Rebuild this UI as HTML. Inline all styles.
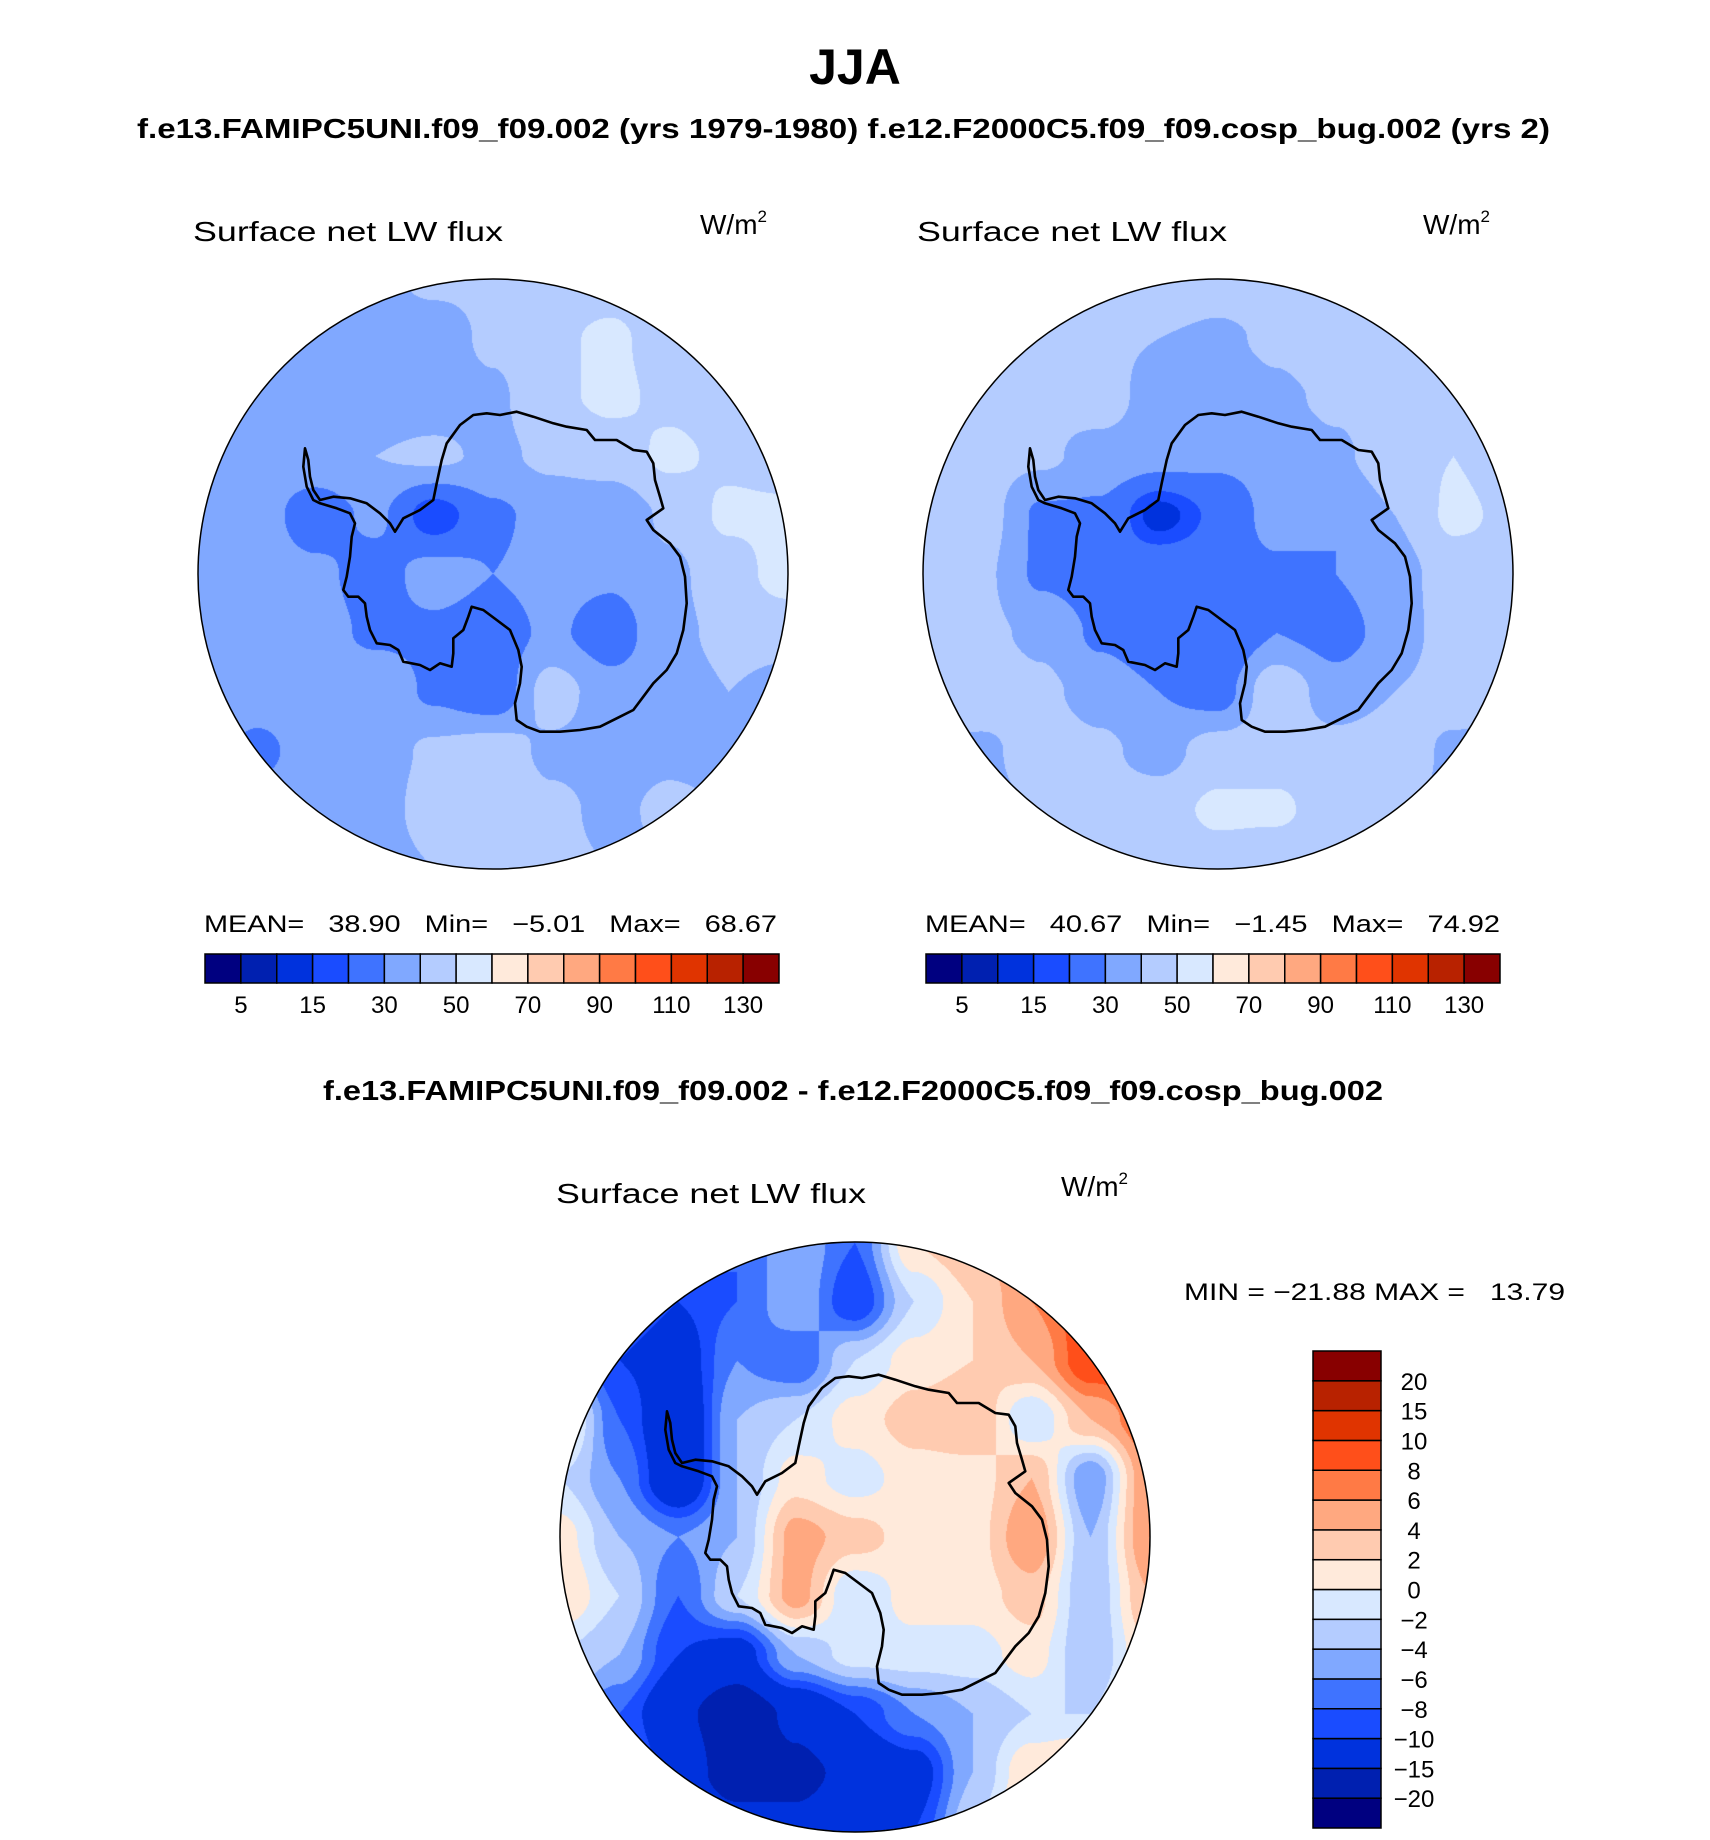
<!DOCTYPE html>
<html><head><meta charset="utf-8"><style>
html,body{margin:0;padding:0;background:#fff;}
#root{position:relative;width:1710px;height:1840px;overflow:hidden;}
canvas{position:absolute;}
svg{position:absolute;left:0;top:0;}
</style></head><body>
<div id="root">
<canvas id="mapL" width="590" height="590" style="left:198px;top:279px"></canvas>
<canvas id="mapR" width="590" height="590" style="left:923px;top:279px"></canvas>
<canvas id="mapD" width="590" height="590" style="left:560px;top:1242px"></canvas>
<svg id="ov" width="1710" height="1840" font-family="Liberation Sans, sans-serif">
<text x="855" y="84" text-anchor="middle" font-weight="bold" font-size="50">JJA</text>
<text x="137" y="138" font-weight="bold" font-size="28" textLength="1413" lengthAdjust="spacingAndGlyphs">f.e13.FAMIPC5UNI.f09_f09.002 (yrs 1979-1980)    f.e12.F2000C5.f09_f09.cosp_bug.002 (yrs 2)</text>
<text x="193" y="241" font-size="28" textLength="310" lengthAdjust="spacingAndGlyphs">Surface net LW flux</text>
<text x="700" y="234" font-size="28">W/m<tspan font-size="17" dy="-12">2</tspan></text>
<text x="917" y="241" font-size="28" textLength="310" lengthAdjust="spacingAndGlyphs">Surface net LW flux</text>
<text x="1423" y="234" font-size="28">W/m<tspan font-size="17" dy="-12">2</tspan></text>
<text x="204" y="932" font-size="24" textLength="573" lengthAdjust="spacingAndGlyphs" xml:space="preserve">MEAN=   38.90   Min=   −5.01   Max=   68.67</text>
<text x="925" y="932" font-size="24" textLength="575" lengthAdjust="spacingAndGlyphs" xml:space="preserve">MEAN=   40.67   Min=   −1.45   Max=   74.92</text>
<text x="323" y="1100" font-weight="bold" font-size="28" textLength="1060" lengthAdjust="spacingAndGlyphs">f.e13.FAMIPC5UNI.f09_f09.002 - f.e12.F2000C5.f09_f09.cosp_bug.002</text>
<text x="556" y="1203" font-size="28" textLength="310" lengthAdjust="spacingAndGlyphs">Surface net LW flux</text>
<text x="1061" y="1196" font-size="28">W/m<tspan font-size="17" dy="-12">2</tspan></text>
<text x="1184" y="1300" font-size="24" textLength="381" lengthAdjust="spacingAndGlyphs" xml:space="preserve">MIN = −21.88 MAX =   13.79</text>
<g id="cbars"></g>
<g id="coasts"></g>
</svg>
</div>
<script>
const colors=["#000080","#0020b0","#0032dd","#1a4cff","#3f73ff","#80a8ff","#b4ccff","#d8e8ff","#ffeadb","#ffcbb0","#ffa880","#ff7a45","#ff4f1a","#e03400","#b82200","#880000"];
const levelsAbs=[5,10,15,20,30,40,50,60,70,80,90,100,110,120,130];
const tickLabelsAbs=["5","15","30","50","70","90","110","130"];
const levelsDiff=[-20,-15,-10,-8,-6,-4,-2,0,2,4,6,8,10,15,20];
const tickLabelsDiff=["−20","−15","−10","−8","−6","−4","−2","0","2","4","6","8","10","15","20"];
const gridL=[
[35,35,35,38,42,42,45,45,42,40,40],
[35,35,38,35,35,42,48,52,45,42,40],
[35,34,35,35,35,38,48,52,48,45,40],
[35,34,36,40,42,38,42,45,52,48,45],
[35,34,25,32,15,28,34,32,42,52,52],
[36,34,32,26,34,30,34,32,38,45,55],
[35,34,34,28,28,25,32,24,38,42,42],
[35,34,35,38,28,22,45,34,36,40,38],
[35,28,34,35,42,45,38,36,38,36,35],
[35,34,32,35,45,48,42,38,42,40,35],
[35,35,35,35,40,45,42,40,38,35,35]];
const gridR=[
[42,42,42,45,48,45,45,45,42,40,40],
[42,42,45,42,40,38,42,48,45,42,40],
[42,40,42,45,35,34,38,42,45,42,40],
[42,44,42,36,34,32,34,38,46,50,45],
[46,45,28,28,12,22,34,30,40,52,48],
[48,42,28,24,28,26,28,30,36,45,48],
[45,42,38,28,22,20,30,26,34,46,42],
[42,46,42,36,30,25,48,34,40,45,40],
[40,38,45,42,36,45,45,44,46,38,38],
[38,38,40,44,46,52,52,44,42,38,38],
[38,38,38,40,42,45,42,40,38,38,38]];
const gridD=[
[-6,-6,-6,-8,-4,-8,2,4,6,8,8],
[-6,-8,-10,-8,-4,-10,-2,2,6,10,10],
[-6,-10,-12,-6,-8,-2,1,2,4,10,10],
[2,-8,-14,-4,-2,1,3,4,-2,4,8],
[-2,-6,-14,-4,1,-1,1,1,4,-6,6],
[1,-4,-6,-4,5,3,1,1,6,-4,6],
[2,-2,-8,-2,5,-2,1,1,3,-4,4],
[-2,-4,-10,-12,-4,-1,-1,-1,1,-4,2],
[-4,-8,-14,-18,-14,-10,-6,-4,-2,-2,2],
[-4,-6,-12,-18,-16,-14,-12,-4,2,4,4],
[-4,-6,-8,-12,-14,-12,-10,-2,4,6,6]];

function hex(c){return [parseInt(c.slice(1,3),16),parseInt(c.slice(3,5),16),parseInt(c.slice(5,7),16)];}
const rgb=colors.map(hex);
function bin(v,lv){let i=0;while(i<lv.length&&v>=lv[i])i++;return i;}
function drawMap(id,grid,lv){
  const cv=document.getElementById(id),ctx=cv.getContext('2d');
  const W=590,R=295,img=ctx.createImageData(W,W),n=grid.length-1;
  for(let y=0;y<W;y++)for(let x=0;x<W;x++){
    const dx=x-R+0.5,dy=y-R+0.5;if(dx*dx+dy*dy>R*R)continue;
    const gx=x/(W-1)*n,gy=y/(W-1)*n;
    const i=Math.min(n-1,Math.floor(gx)),j=Math.min(n-1,Math.floor(gy));
    const fx=gx-i,fy=gy-j;
    const sx=fx*fx*(3-2*fx),sy=fy*fy*(3-2*fy);
    const v=grid[j][i]*(1-sx)*(1-sy)+grid[j][i+1]*sx*(1-sy)+grid[j+1][i]*(1-sx)*sy+grid[j+1][i+1]*sx*sy;
    const c=rgb[bin(v,lv)],k=(y*W+x)*4;
    img.data[k]=c[0];img.data[k+1]=c[1];img.data[k+2]=c[2];img.data[k+3]=255;
  }
  ctx.putImageData(img,0,0);
}
drawMap('mapL',gridL,levelsAbs);
drawMap('mapR',gridR,levelsAbs);
drawMap('mapD',gridD,levelsDiff);

const NS='http://www.w3.org/2000/svg';
function mk(tag,attrs,parent){const e=document.createElementNS(NS,tag);for(const k in attrs)e.setAttribute(k,attrs[k]);parent.appendChild(e);return e;}
const cb=document.getElementById('cbars');
[[205,'left'],[926,'right']].forEach(([x0,side])=>{
  const w=(779-205)/16;
  colors.forEach((c,i)=>{
    const r=mk('rect',{x:x0+i*w,y:954,width:w,height:29,fill:c,stroke:'#000','stroke-width':1.5},cb);
    
    
  });
  tickLabelsAbs.forEach((t,k)=>{
    const t2=mk('text',{x:x0+(2*k+1)*w,y:1013,'text-anchor':'middle','font-size':24},cb);t2.textContent=t;
    
    
  });
});
{
  const y0=1351,h=(1828-1351)/16;
  colors.forEach((c,i)=>{
    const r=mk('rect',{x:1313,y:y0+(15-i)*h,width:68,height:h,fill:c,stroke:'#000','stroke-width':1.5},cb);
    
    
  });
  tickLabelsDiff.forEach((t,k)=>{
    const t2=mk('text',{x:1414,y:y0+(15-k)*h+9,'text-anchor':'middle','font-size':24},cb);t2.textContent=t;
    
    
  });
}
const coastPts=[[15,175],[25,210],[30,260],[40,300],[60,330],[100,320],[150,325],[200,340],[240,370],[270,400],[285,425],[310,385],[360,360],[400,330],[410,280],[425,210],[440,160],[480,105],[520,75],[560,70],[600,75],[650,65],[700,80],[760,100],[800,110],[860,120],[885,150],[950,150],[1000,180],[1040,185],[1060,220],[1065,270],[1080,320],[1090,355],[1040,390],[1060,420],[1110,460],[1140,500],[1155,560],[1160,640],[1150,720],[1130,790],[1100,840],[1060,880],[1030,920],[1000,960],[960,980],[900,1010],[840,1020],[780,1025],[720,1025],[680,1010],[650,990],[645,940],[660,880],[665,830],[655,780],[630,720],[590,690],[550,660],[515,650],[505,680],[490,720],[460,745],[460,790],[455,830],[420,820],[390,840],[360,825],[310,815],[295,780],[270,765],[230,760],[210,720],[200,680],[195,640],[175,620],[145,620],[130,600],[140,560],[150,500],[155,440],[165,400],[150,370],[110,355],[60,340],[40,330],[20,290],[10,230]];
const cg=document.getElementById('coasts');
[[493,574,'left'],[1218,574,'right'],[855,1537,'diff']].forEach(([cx,cy,side])=>{
  const d=coastPts.map((p,i)=>(i?'L':'M')+(300+p[0]/3-493+cx).toFixed(1)+','+(390+p[1]/3-574+cy).toFixed(1)).join('')+'Z';
  const pth=mk('path',{d:d,fill:'none',stroke:'#000','stroke-width':2.6,'stroke-linejoin':'round'},cg);
  
  
  const c=mk('circle',{cx:cx,cy:cy,r:295,fill:'none',stroke:'#000','stroke-width':1.5},cg);
  
  
});
</script>
</body></html>
